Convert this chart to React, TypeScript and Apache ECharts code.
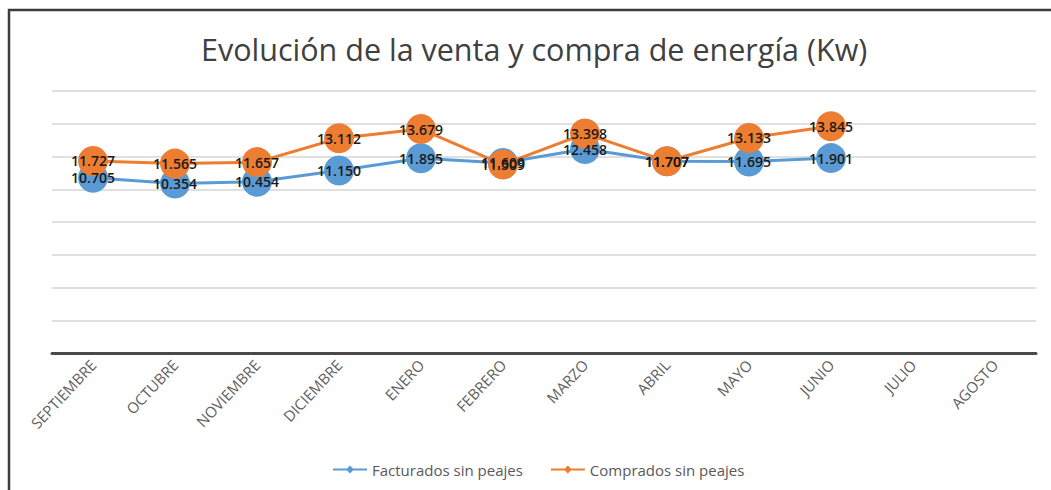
import React, { useEffect, useRef } from "react";
import * as echarts from "echarts";

const months = [
  "SEPTIEMBRE", "OCTUBRE", "NOVIEMBRE", "DICIEMBRE", "ENERO", "FEBRERO",
  "MARZO", "ABRIL", "MAYO", "JUNIO", "JULIO", "AGOSTO",
];
const facturados = [10705, 10354, 10454, 11150, 11895, 11609, 12458, 11707, 11695, 11901, null, null];
const comprados = [11727, 11565, 11657, 13112, 13679, 11509, 13398, 11707, 13133, 13845, null, null];
const yMin = 0;
const yMax = 16000;
const yStep = 2000;

const fmt = (v: number) => String(v).replace(/\B(?=(\d{3})+(?!\d))/g, ".");
const FONT = "'Open Sans', 'Noto Sans', sans-serif";
const legendIcon = "path://M0,3 L14,3 L17,0 L20,3 L34,3 L34,5 L20,5 L17,8 L14,5 L0,5 Z";

export default function App() {
  const ref = useRef<HTMLDivElement>(null);
  useEffect(() => {
    if (!ref.current) return;
    const chart = echarts.init(ref.current, undefined, { renderer: "svg" });
    const label = {
      show: true,
      position: "inside",
      fontSize: 14,
      fontWeight: 600,
      color: "#1a1a1a",
      fontFamily: FONT,
      formatter: (p: any) => fmt(p.value),
    };
    chart.setOption({
      animation: false,
      backgroundColor: "#ffffff",
      title: {
        text: "Evolución de la venta y compra de energía (Kw)",
        left: 196,
        top: 28,
        textStyle: { fontFamily: FONT, fontSize: 30.5, fontWeight: "normal", color: "#404040" },
      },
      grid: { left: 52, right: 15, top: 91, bottom: 137, containLabel: false },
      legend: {
        left: 328,
        top: 457,
        itemWidth: 34,
        itemHeight: 8,
        itemGap: 28,
        textStyle: { fontFamily: FONT, fontSize: 15, color: "#595959" },
        data: [
          { name: "Facturados sin peajes", icon: legendIcon },
          { name: "Comprados sin peajes", icon: legendIcon },
        ],
      },
      xAxis: {
        type: "category",
        data: months,
        boundaryGap: true,
        axisLine: { lineStyle: { color: "#4a4a4a", width: 3 } },
        axisTick: { show: false },
        axisLabel: {
          rotate: 47,
          margin: 9,
          fontSize: 15,
          color: "#5f5f5f",
          fontFamily: FONT,
          interval: 0,
        },
      },
      yAxis: {
        type: "value",
        min: yMin,
        max: yMax,
        interval: yStep,
        axisLabel: { show: false },
        axisLine: { show: false },
        axisTick: { show: false },
        splitLine: { lineStyle: { color: "#d6d6d6", width: 1.5 } },
      },
      series: [
        {
          name: "Facturados sin peajes",
          type: "line",
          data: facturados,
          symbol: "circle",
          symbolSize: 30,
          color: "#5b9bd5",
          lineStyle: { width: 3, color: "#5b9bd5" },
          itemStyle: { color: "#5b9bd5" },
          label,
        },
        {
          name: "Comprados sin peajes",
          type: "line",
          data: comprados,
          symbol: "circle",
          symbolSize: 30,
          color: "#ed7d31",
          lineStyle: { width: 3, color: "#ed7d31" },
          itemStyle: { color: "#ed7d31" },
          label,
        },
      ],
      graphic: [
        {
          type: "rect",
          shape: { x: 9, y: 10, width: 1100, height: 600 },
          style: { fill: "none", stroke: "#3c3c3c", lineWidth: 2.5 },
          silent: true,
        },
      ],
    });
    return () => chart.dispose();
  }, []);
  return (
    <div
      ref={ref}
      style={{ position: "fixed", left: 0, top: 0, width: 1051, height: 490 }}
    />
  );
}
